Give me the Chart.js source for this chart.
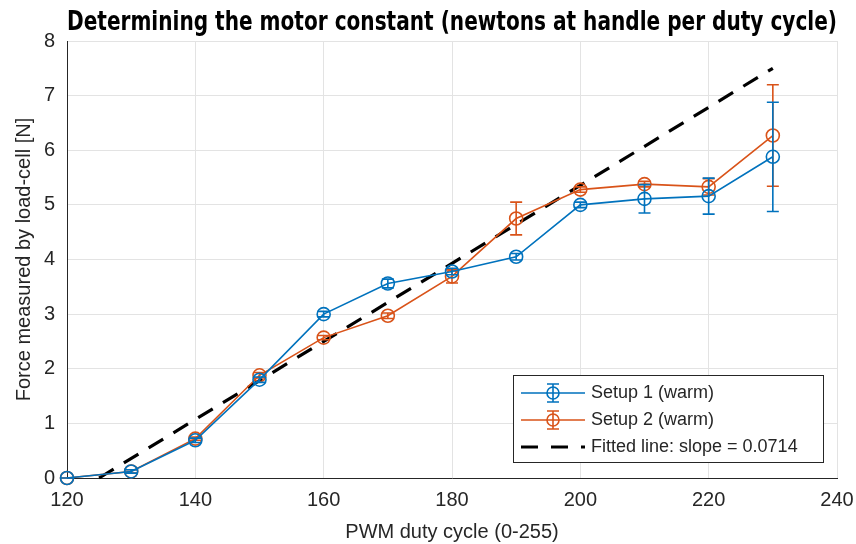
<!DOCTYPE html>
<html>
<head>
<meta charset="utf-8">
<script src="https://cdn.jsdelivr.net/npm/chart.js@4"></script>
<style>
  html, body { margin: 0; padding: 0; background: #fff; }
  #wrap { width: 856px; height: 544px; }
</style>
</head>
<body>
<div id="wrap"><canvas id="motorChart" width="856" height="544"></canvas></div>
<script>
// Values
const dutyCycle = [120, 130, 140, 150, 160, 170, 180, 190, 200, 210, 220, 230];
const setup1Force = [0, 0.12, 0.69, 1.80, 3.00, 3.56, 3.78, 4.05, 5.00, 5.11, 5.16, 5.88];
const setup1Err = [0, 0.03, 0.04, 0.05, 0.05, 0.08, 0.06, 0.06, 0.05, 0.26, 0.33, 1.0];
const setup2Force = [0, 0.12, 0.72, 1.88, 2.57, 2.97, 3.69, 4.75, 5.28, 5.38, 5.33, 6.27];
const setup2Err = [0, 0.03, 0.03, 0.05, 0.04, 0.05, 0.12, 0.30, 0.05, 0.05, 0.15, 0.93];
const fitX = [125.0, 230];
const fitY = [0, 7.5];
const xTicks = [120, 140, 160, 180, 200, 220, 240];

const BLUE = '#0072BD';
const ORANGE = '#D95319';
const TEXT = '#262626';
const FONT = '"Liberation Sans", Arial, Helvetica, sans-serif';
const TITLE_FONT = '"Liberation Sans Narrow", "DejaVu Sans Condensed", "Liberation Sans", sans-serif';

const toPoints = (xs, ys) => xs.map((x, i) => ({x: x, y: ys[i]}));

// Error bars drawn through the chart's scales
const errorBarPlugin = {
	id: 'errorBars',
	afterDatasetDraw(chart, args) {
		const ds = chart.data.datasets[args.index];
		if (!ds.errors) return;
		const {ctx, scales} = chart;
		const cap = 6;
		ctx.save();
		ctx.strokeStyle = ds.borderColor;
		ctx.lineWidth = 1.6;
		ds.data.forEach((p, i) => {
			const e = ds.errors[i];
			const px = scales.x.getPixelForValue(p.x);
			const top = scales.y.getPixelForValue(p.y + e);
			const bot = scales.y.getPixelForValue(p.y - e);
			ctx.beginPath();
			ctx.moveTo(px, top);
			ctx.lineTo(px, bot);
			ctx.moveTo(px - cap, top);
			ctx.lineTo(px + cap, top);
			ctx.moveTo(px - cap, bot);
			ctx.lineTo(px + cap, bot);
			ctx.stroke();
		});
		ctx.restore();
	},
};

// MATLAB-style legend box in the lower right of the axes
const boxLegendPlugin = {
	id: 'boxLegend',
	afterDraw(chart) {
		const {ctx, chartArea} = chart;
		const w = 310, h = 87;
		const x0 = chartArea.right - 14 - w;
		const y0 = chartArea.bottom - 16 - h;
		ctx.save();
		ctx.fillStyle = '#fff';
		ctx.fillRect(x0, y0, w, h);
		ctx.strokeStyle = TEXT;
		ctx.lineWidth = 1;
		ctx.strokeRect(x0 + 0.5, y0 + 0.5, w, h);

		const entries = [
			{label: 'Setup 1 (warm)', color: BLUE, marker: true},
			{label: 'Setup 2 (warm)', color: ORANGE, marker: true},
			{label: 'Fitted line: slope = 0.0714', color: '#000', marker: false},
		];
		ctx.font = '18px ' + FONT;
		ctx.textBaseline = 'middle';
		entries.forEach((en, i) => {
			const cy = y0 + 18 + i * 27;
			const lx1 = x0 + 8, lx2 = x0 + 72, mx = (lx1 + lx2) / 2;
			ctx.strokeStyle = en.color;
			if (en.marker) {
				ctx.lineWidth = 1.6;
				ctx.beginPath();
				ctx.moveTo(lx1, cy);
				ctx.lineTo(lx2, cy);
				ctx.moveTo(mx, cy - 9);
				ctx.lineTo(mx, cy + 9);
				ctx.moveTo(mx - 6, cy - 9);
				ctx.lineTo(mx + 6, cy - 9);
				ctx.moveTo(mx - 6, cy + 9);
				ctx.lineTo(mx + 6, cy + 9);
				ctx.stroke();
				ctx.beginPath();
				ctx.arc(mx, cy, 6, 0, Math.PI * 2);
				ctx.stroke();
			} else {
				ctx.lineWidth = 3;
				ctx.setLineDash([17, 13]);
				ctx.beginPath();
				ctx.moveTo(lx1, cy);
				ctx.lineTo(lx2, cy);
				ctx.stroke();
				ctx.setLineDash([]);
			}
			ctx.fillStyle = TEXT;
			ctx.fillText(en.label, x0 + 78, cy);
		});
		ctx.restore();
	},
};

new Chart(document.getElementById('motorChart'), {
	type: 'line',
	data: {
		datasets: [
			{
				label: 'Setup 1 (warm)',
				data: toPoints(dutyCycle, setup1Force),
				errors: setup1Err,
				borderColor: BLUE,
				backgroundColor: 'rgba(0,0,0,0)',
				borderWidth: 1.6,
				pointRadius: 6.5,
				pointBorderWidth: 1.6,
				pointBackgroundColor: 'rgba(0,0,0,0)',
				pointBorderColor: BLUE,
				tension: 0,
			},
			{
				label: 'Setup 2 (warm)',
				data: toPoints(dutyCycle, setup2Force),
				errors: setup2Err,
				borderColor: ORANGE,
				backgroundColor: 'rgba(0,0,0,0)',
				borderWidth: 1.6,
				pointRadius: 6.5,
				pointBorderWidth: 1.6,
				pointBackgroundColor: 'rgba(0,0,0,0)',
				pointBorderColor: ORANGE,
				tension: 0,
			},
			{
				label: 'Fitted line: slope = 0.0714',
				data: toPoints(fitX, fitY),
				borderColor: '#000',
				borderWidth: 3.2,
				borderDash: [17, 12],
				pointRadius: 0,
				tension: 0,
			},
		],
	},
	options: {
		responsive: false,
		animation: false,
		clip: false,
		layout: {padding: {left: 0, right: 19, top: 0, bottom: 0}},
		plugins: {
			legend: {display: false},
			tooltip: {enabled: false},
			title: {
				display: true,
				fullSize: false,
				text: 'Determining the motor constant (newtons at handle per duty cycle)',
				color: '#000',
				font: {family: TITLE_FONT, size: 27, weight: 'bold', lineHeight: 1.0},
				padding: {top: 9, bottom: 5},
			},
		},
		scales: {
			x: {
				type: 'linear',
				min: 120,
				max: 240,
				afterBuildTicks: (scale) => {
					scale.ticks = xTicks.map((v) => ({value: v}));
				},
				afterFit: (scale) => {
					scale.height = 66;
					scale.paddingLeft = 0;
					scale.paddingRight = 0;
				},
				ticks: {
					color: TEXT,
					font: {family: FONT, size: 20},
					padding: 10,
					maxRotation: 0,
				},
				grid: {color: '#e3e3e3', drawTicks: false, lineWidth: 1},
				border: {color: TEXT, width: 1},
				title: {
					display: true,
					text: 'PWM duty cycle (0-255)',
					color: TEXT,
					font: {family: FONT, size: 20},
					padding: {top: 0, bottom: 0},
				},
			},
			y: {
				min: 0,
				max: 8,
				ticks: {
					stepSize: 1,
					color: TEXT,
					font: {family: FONT, size: 20},
					padding: 12,
				},
				afterFit: (scale) => {
					scale.width = 67;
				},
				grid: {color: '#e3e3e3', drawTicks: false, lineWidth: 1},
				border: {color: TEXT, width: 1},
				title: {
					display: true,
					text: 'Force measured by load-cell [N]',
					color: TEXT,
					font: {family: FONT, size: 20},
					padding: {top: 12, bottom: 0},
				},
			},
		},
	},
	plugins: [errorBarPlugin, boxLegendPlugin],
});
</script>
</body>
</html>
